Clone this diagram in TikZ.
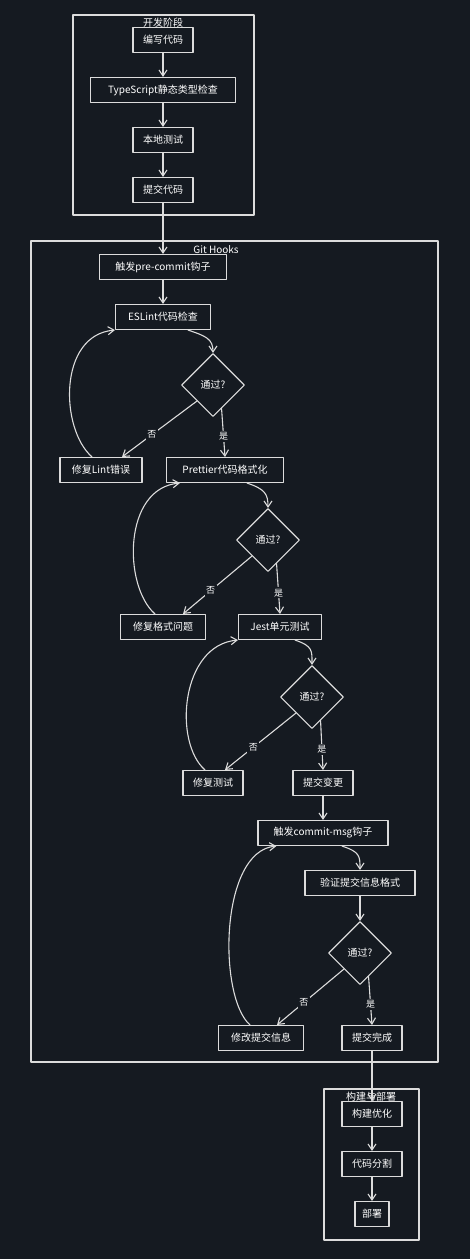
\documentclass[tikz,border=0pt]{standalone}
\usepackage{fontspec}
\setmainfont{Noto Sans CJK SC}
\usetikzlibrary{arrows.meta,shapes.geometric}
\definecolor{bgdark}{HTML}{151A21}
\definecolor{inkline}{HTML}{DCDCDC}

\begin{document}
\begin{tikzpicture}[x=1pt,y=-1pt,>={Straight Barb[length=6pt,width=8pt]},line cap=round,line join=round,
  box/.style={draw=inkline,fill=bgdark,line width=1.1pt,minimum height=25pt,inner sep=0pt,text=white,font=\fontsize{10}{12}\selectfont},
  check/.style={diamond,draw=inkline,fill=bgdark,line width=1.1pt,minimum width=63pt,minimum height=63pt,inner sep=0pt,text=white,font=\fontsize{10}{12}\selectfont},
  flow/.style={->,draw=inkline,line width=1.1pt},
  frame/.style={draw=inkline,line width=1.1pt},
  title/.style={text=white,inner sep=0pt,font=\fontsize{10}{12}\selectfont},
  tag/.style={fill=bgdark,text=white,inner sep=1.5pt,font=\fontsize{9}{11}\selectfont}]
\useasboundingbox[fill=bgdark] (0,0) rectangle (470,1259);
\draw[frame] (73,15) rectangle (254,215);
\draw[frame] (31,241) rectangle (438,1062);
\draw[frame] (324,1089) rectangle (419,1240);
\node[title] (devtitle) at (163,23) {开发阶段};
\node[title] (hooktitle) at (216,250) {Git Hooks};
\node[title] (buildtitle) at (371,1097) {构建与部署};
\node[box,minimum width=60pt] (write) at (163,40) {编写代码};
\node[box,minimum width=145pt] (tscheck) at (163,90) {TypeScript静态类型检查};
\node[box,minimum width=60pt] (localtest) at (163,140) {本地测试};
\node[box,minimum width=60pt] (commit) at (163,190) {提交代码};
\node[box,minimum width=127pt] (precommit) at (163,267) {触发pre-commit钩子};
\node[box,minimum width=95pt] (eslint) at (163,317) {ESLint代码检查};
\node[check] (passa) at (213,385) {通过?};
\node[box,minimum width=82pt] (fixlint) at (101,470) {修复Lint错误};
\node[box,minimum width=117pt] (prettier) at (225,470) {Prettier代码格式化};
\node[check] (passb) at (268,540) {通过?};
\node[box,minimum width=85pt] (fixfmt) at (163,627) {修复格式问题};
\node[box,minimum width=83pt] (jest) at (280,627) {Jest单元测试};
\node[check] (passc) at (312,697) {通过?};
\node[box,minimum width=60pt] (fixtest) at (213,783) {修复测试};
\node[box,minimum width=60pt] (change) at (323,783) {提交变更};
\node[box,minimum width=130pt] (commitmsg) at (323,833) {触发commit-msg钩子};
\node[box,minimum width=110pt] (verify) at (360,883) {验证提交信息格式};
\node[check] (passd) at (360,953) {通过?};
\node[box,minimum width=85pt] (fixmsg) at (261,1038) {修改提交信息};
\node[box,minimum width=60pt] (done) at (372,1038) {提交完成};
\node[box,minimum width=60pt] (optimize) at (372,1114) {构建优化};
\node[box,minimum width=60pt] (split) at (372,1164) {代码分割};
\node[box,minimum width=34pt] (deploy) at (372,1214) {部署};
\draw[flow] (write) -- (tscheck);
\draw[flow] (tscheck) -- (localtest);
\draw[flow] (localtest) -- (commit);
\draw[flow] (commit) -- (precommit);
\draw[flow] (precommit) -- (eslint);
\draw[flow] ([xshift=25pt]eslint.south) .. controls +(18,6) and +(0,-14) .. (passa.north);
\draw[flow] (passa.south west) -- node[tag,pos=0.6] {否} ([xshift=21pt]fixlint.north);
\draw[flow] (passa.-70) -- node[tag,pos=0.58] {是} (prettier.north);
\draw[flow] ([xshift=-9pt]fixlint.north) .. controls +(-32,-28) and +(-57,5) .. (eslint.south west);
\draw[flow] ([xshift=22pt]prettier.south) .. controls +(18,6) and +(0,-14) .. (passb.north);
\draw[flow] (passb.south west) -- node[tag,pos=0.6] {否} ([xshift=20pt]fixfmt.north);
\draw[flow] (passb.-70) -- node[tag,pos=0.58] {是} (jest.north);
\draw[flow] ([xshift=-8pt]fixfmt.north) .. controls +(-32,-28) and +(-57,5) .. ([xshift=14pt]prettier.south west);
\draw[flow] ([xshift=15pt]jest.south) .. controls +(18,6) and +(0,-14) .. (passc.north);
\draw[flow] (passc.south west) -- node[tag,pos=0.6] {否} ([xshift=12pt]fixtest.north);
\draw[flow] (passc.-70) -- node[tag,pos=0.58] {是} (change.north);
\draw[flow] ([xshift=-8pt]fixtest.north) .. controls +(-32,-28) and +(-57,5) .. (jest.south west);
\draw[flow] (change) -- (commitmsg);
\draw[flow] ([xshift=19pt]commitmsg.south) .. controls +(18,6) and +(0,-14) .. (verify.north);
\draw[flow] (verify) -- (passd);
\draw[flow] (passd.south west) -- node[tag,pos=0.6] {否} ([xshift=16pt]fixmsg.north);
\draw[flow] (passd.-70) -- node[tag,pos=0.58] {是} (done.north);
\draw[flow] ([xshift=-11pt]fixmsg.north) .. controls +(-32,-28) and +(-57,5) .. ([xshift=19pt]commitmsg.south west);
\draw[flow] (done) -- (optimize);
\draw[flow] (optimize) -- (split);
\draw[flow] (split) -- (deploy);
\end{tikzpicture}
\end{document}
